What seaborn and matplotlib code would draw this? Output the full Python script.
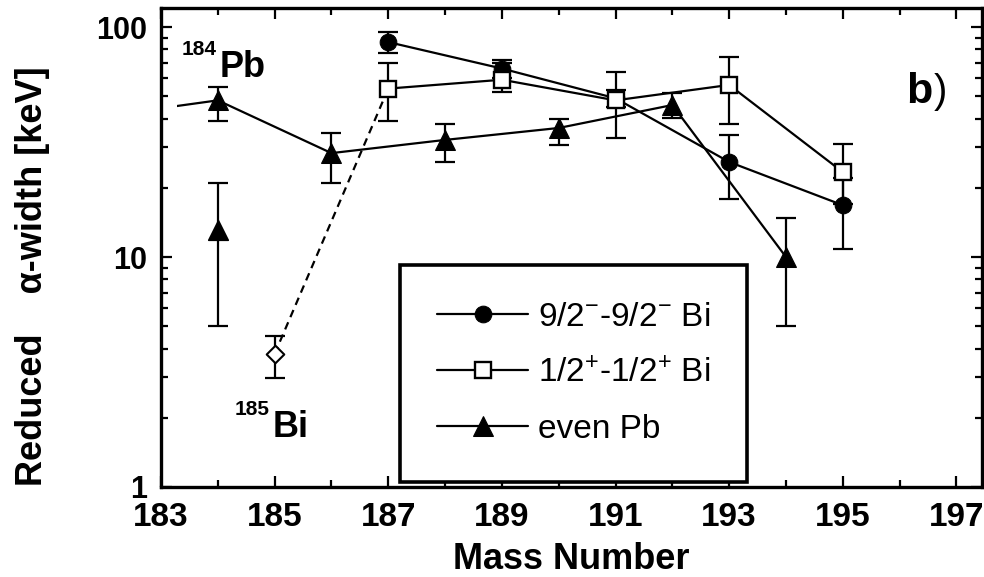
import numpy as np
import pandas as pd
import matplotlib
matplotlib.use("Agg")
import matplotlib.pyplot as plt
from matplotlib.patches import Rectangle
from matplotlib.ticker import FixedLocator, FixedFormatter, LogLocator, NullFormatter
import seaborn as sns

# ---------------- data ----------------
mass_bi_h = [187, 189, 191, 193, 195]          # 9/2- -> 9/2- Bi
width_bi_h = [86, 66, 49, 25.9, 16.8]
lo_bi_h = [77, 60, 45, 17.9, 10.8]
hi_bi_h = [95, 72, 53, 34, 22]

mass_bi_s = [187, 189, 191, 193, 195]          # 1/2+ -> 1/2+ Bi
width_bi_s = [54, 59, 48, 56, 23.4]
lo_bi_s = [39, 52, 33, 38, 17]
hi_bi_s = [70, 70, 64, 74, 31]

mass_pb = [182, 184, 186, 188, 190, 192, 194]  # even Pb
width_pb = [41, 48, 28.3, 32.3, 36.4, 45.8, 10]
lo_pb = [np.nan, 39, 21, 25.9, 30.7, 40.2, 5]
hi_pb = [np.nan, 55, 34.6, 37.9, 40, 51.6, 14.8]

mass_pb_extra = [184]                          # second 184Pb point (no line)
width_pb_extra = [13.1]
lo_pb_extra = [5.0]
hi_pb_extra = [21]

mass_bi185 = [185]                             # 185Bi
width_bi185 = [3.79]
lo_bi185 = [2.98]
hi_bi185 = [4.53]

dash_mass = [185, 187]                         # dashed link 185Bi -> 187Bi
dash_width = [3.79, 54]

labels = [r"9/2$^{\mathrm{-}}$-9/2$^{\mathrm{-}}$ Bi",
          r"1/2$^{+}$-1/2$^{+}$ Bi",
          "even Pb"]
xticks = [183, 185, 187, 189, 191, 193, 195, 197]
yticks = [1, 10, 100]
ytick_labels = ["1", "10", "100"]

# ---------------- style ----------------
sns.set_style("ticks")
plt.rcParams["font.family"] = ["Liberation Sans", "DejaVu Sans"]
plt.rcParams["mathtext.fontset"] = "custom"
plt.rcParams["mathtext.rm"] = "Liberation Sans"
plt.rcParams["mathtext.it"] = "Liberation Sans:italic"
plt.rcParams["mathtext.bf"] = "Liberation Sans:bold"
for k in ["text.color", "axes.labelcolor", "xtick.color", "ytick.color", "axes.edgecolor"]:
    plt.rcParams[k] = "black"

fig = plt.figure(figsize=(9.84, 5.77), dpi=100)
ax = fig.add_axes([161 / 984, 1 - 487 / 577, (982 - 161) / 984, (487 - 8) / 577])

LW = 1.6
ebkw = dict(fmt="none", ecolor="black", elinewidth=1.6, capsize=7, capthick=1.6, zorder=2)

# dashed link
sns.lineplot(x=dash_mass, y=dash_width, ax=ax, color="black", linestyle=(0, (3.5, 2.5)),
             linewidth=LW, zorder=1, legend=False)

# series lines with markers
df_h = pd.DataFrame({"m": mass_bi_h, "w": width_bi_h})
df_s = pd.DataFrame({"m": mass_bi_s, "w": width_bi_s})
df_p = pd.DataFrame({"m": mass_pb, "w": width_pb})

sns.lineplot(data=df_h, x="m", y="w", ax=ax, color="black", linewidth=LW, marker="o",
             markersize=12, markerfacecolor="black", markeredgecolor="black",
             label=labels[0], zorder=4)
sns.lineplot(data=df_s, x="m", y="w", ax=ax, color="black", linewidth=LW, marker="s",
             markersize=11, markerfacecolor="white", markeredgecolor="black",
             markeredgewidth=1.7, label=labels[1], zorder=5)
sns.lineplot(data=df_p, x="m", y="w", ax=ax, color="black", linewidth=LW, marker="^",
             markersize=15, markerfacecolor="black", markeredgecolor="black",
             label=labels[2], zorder=3)
pb_line = ax.get_lines()[-1]
pb_line.set_clip_path(Rectangle((183.28, 0.1), 20, 1000, transform=ax.transData))

# extra points
sns.scatterplot(x=mass_pb_extra, y=width_pb_extra, ax=ax, marker="^", s=200,
                color="black", edgecolor="black", zorder=3, legend=False)
sns.scatterplot(x=mass_bi185, y=width_bi185, ax=ax, marker="D", s=80,
                color="white", edgecolor="black", linewidth=1.5, zorder=4, legend=False)

# error bars
def errs(vals, lo, hi):
    v = np.array(vals, float)
    return np.vstack([v - np.array(lo, float), np.array(hi, float) - v])

ax.errorbar(mass_bi_h, width_bi_h, yerr=errs(width_bi_h, lo_bi_h, hi_bi_h), **ebkw)
ax.errorbar(mass_bi_s, width_bi_s, yerr=errs(width_bi_s, lo_bi_s, hi_bi_s), **ebkw)
ax.errorbar(mass_pb, width_pb, yerr=errs(width_pb, lo_pb, hi_pb), **ebkw)
ax.errorbar(mass_pb_extra, width_pb_extra, yerr=errs(width_pb_extra, lo_pb_extra, hi_pb_extra), **ebkw)
ax.errorbar(mass_bi185, width_bi185, yerr=errs(width_bi185, lo_bi185, hi_bi185), **ebkw)

# axes
ax.set_yscale("log")
ax.set_xlim(183, 197.45)
ax.set_ylim(1, 121)
ax.xaxis.set_major_locator(FixedLocator(xticks))
ax.xaxis.set_minor_locator(FixedLocator(list(range(184, 198, 2))))
ax.set_xticklabels([str(t) for t in xticks])
ax.yaxis.set_major_locator(FixedLocator(yticks))
ax.yaxis.set_major_formatter(FixedFormatter(ytick_labels))
ax.yaxis.set_minor_locator(LogLocator(base=10, subs=np.arange(2, 10)))
ax.yaxis.set_minor_formatter(NullFormatter())

ax.tick_params(which="both", direction="in", top=True, right=True, width=1.6, color="black")
ax.tick_params(which="major", length=8)
ax.tick_params(which="minor", length=5)
ax.tick_params(axis="x", which="major", labelsize=24, pad=11)
ax.tick_params(axis="y", which="major", labelsize=22, pad=10)
for lab in ax.get_xticklabels() + ax.get_yticklabels():
    lab.set_fontweight("bold")
for sp in ax.spines.values():
    sp.set_linewidth(2.4)
    sp.set_color("black")

ax.set_xlabel("Mass Number", fontsize=26, fontweight="bold", labelpad=6)
ax.set_ylabel("Reduced    α-width [keV]", fontsize=26, fontweight="bold")
ax.yaxis.set_label_coords(-0.135, 0.44)

# annotations
ax.text(183.37, 75.6, "184", fontsize=15, fontweight="bold", ha="left", va="baseline")
ax.text(184.04, 60.6, "Pb", fontsize=26, fontweight="bold", ha="left", va="baseline")
ax.text(184.30, 2.06, "185", fontsize=15, fontweight="bold", ha="left", va="baseline")
ax.text(184.97, 1.65, "Bi", fontsize=26, fontweight="bold", ha="left", va="baseline")
ax.text(196.12, 46.7, "b", fontsize=31, fontweight="bold", ha="left", va="baseline")
ax.text(196.6, 46.7, ")", fontsize=29, fontweight="normal", ha="left", va="baseline")

# legend
leg = ax.legend(loc="upper left", bbox_to_anchor=((400 - 161) / 821, (487 - 265) / 479),
                borderaxespad=0, frameon=True, fancybox=False, edgecolor="black",
                prop={"family": "Liberation Sans", "size": 24}, handlelength=2.75,
                handletextpad=0.3, labelspacing=0.75, borderpad=1.1, framealpha=1)
leg.get_frame().set_linewidth(2.6)

fig.savefig("out.png", dpi=100)
